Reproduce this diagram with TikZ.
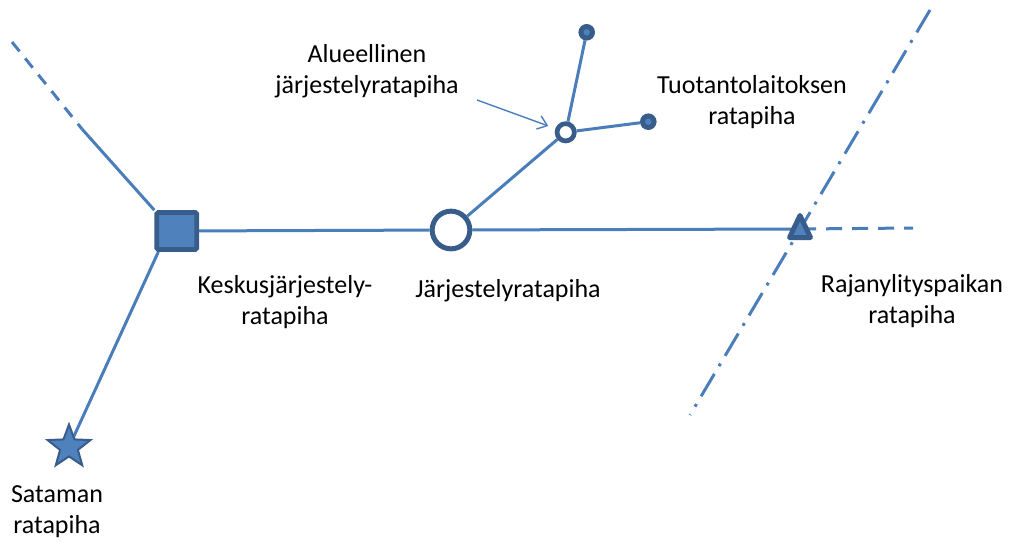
\documentclass[tikz,border=0pt]{standalone}
\usepackage{fontspec}
\setmainfont{Carlito}
\usetikzlibrary{shapes.geometric,arrows.meta,backgrounds}
\definecolor{ln}{HTML}{4A7EBB}
\definecolor{fl}{HTML}{4F81BD}
\definecolor{bd}{HTML}{385D8A}
\begin{document}
\begin{tikzpicture}[x=1pt,y=-1pt,
  track/.style={draw=ln,line width=3pt},
  sqnode/.style={rectangle,fill=fl,draw=bd,line width=4.7pt,minimum width=40pt,minimum height=37pt,inner sep=0pt,rounded corners=1.5pt},
  bigring/.style={circle,fill=white,draw=bd,line width=5pt,minimum size=37.7pt,inner sep=0pt},
  smallring/.style={circle,fill=white,draw=bd,line width=4.7pt,minimum size=17.3pt,inner sep=0pt},
  dotnode/.style={circle,fill=fl,draw=bd,line width=5pt,minimum size=11.5pt,inner sep=0pt},
  starnode/.style={star,star points=5,star point ratio=2.4,fill=fl,draw=bd,line width=2pt,minimum size=45pt,inner sep=0pt},
  trinode/.style={fill=fl,draw=bd,line width=5pt,line join=round},
  lbl/.style={font=\fontsize{26}{31}\selectfont,align=center,anchor=base,inner sep=0pt,text=black}]
\useasboundingbox (0,0) rectangle (1011,541);

% nodes
\node[sqnode] (sq) at (176.7,231) {};
\node[bigring] (jr) at (451,230) {};
\node[smallring] (al) at (565.7,132.3) {};
\node[dotnode] (d1) at (586.7,32.3) {};
\node[dotnode] (d2) at (648.3,121.7) {};
\node[starnode] (st) at (69,447) {};
\coordinate (tri) at (800,229);
\draw[trinode,shift={(tri)}] (0,-13.5) -- (-10.5,8.5) -- (10.5,8.5) -- cycle;

% free ends
\coordinate (tl) at (12,42);
\coordinate (tlm) at (82,129);
\coordinate (dd1) at (930,10);
\coordinate (dd2) at (690,415);
\coordinate (hd) at (913,228);
\coordinate (arrS) at (477,100);

\begin{scope}[on background layer]
\draw[track,dash pattern=on 12pt off 9pt] (tl) -- (tlm);
\draw[track] (tlm) -- (sq.north west);
\draw[track] ([xshift=4pt]sq.south west) -- (st.center);
\draw[track] (sq) -- (jr) -- (tri);
\draw[track] (jr) -- (al);
\draw[track] (al) -- (d1);
\draw[track] (al) -- (d2);
\draw[track,dash pattern=on 16pt off 10pt] (tri) -- (hd);
\draw[track,dash pattern=on 26pt off 9pt on 3pt off 9pt] (dd1) -- (dd2);
\end{scope}

\draw[ln,line width=1.4pt,-{Straight Barb[length=9pt,width=14pt]},shorten >=7.5pt] (arrS) -- (al);

% labels (base anchor = baseline of last line)
\node[lbl] (lal) at (367,93) {Alueellinen\\järjestelyratapiha};
\node[lbl] (ltu) at (752,124) {Tuotantolaitoksen\\ratapiha};
\node[lbl] (lke) at (285,324) {Keskusjärjestely-\\ratapiha};
\node[lbl] (ljr) at (508,297) {Järjestelyratapiha};
\node[lbl] (lra) at (912,323) {Rajanylityspaikan\\ratapiha};
\node[lbl] (lsa) at (57,533) {Sataman\\ratapiha};
\end{tikzpicture}
\end{document}
